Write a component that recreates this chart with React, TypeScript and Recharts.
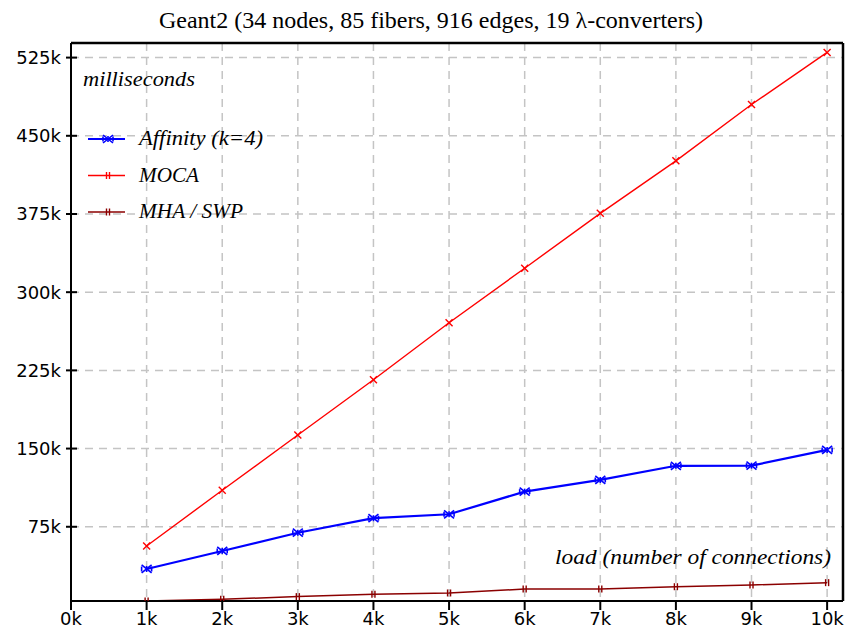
import {
  CartesianGrid,
  Customized,
  Line,
  LineChart,
  ReferenceLine,
  XAxis,
  YAxis,
} from "recharts";

// load (number of connections) vs. running time in milliseconds
const loads = [1000, 2000, 3000, 4000, 5000, 6000, 7000, 8000, 9000, 10000];
const affinity = [34500, 51800, 69300, 83200, 87000, 108700, 119900, 133500, 133600, 148700];
const moca = [56600, 110000, 163000, 216000, 270700, 323000, 375600, 426000, 480000, 530000];
const mhaSwp = [3800, 5500, 8000, 10300, 11500, 15200, 15200, 17500, 19200, 21400];

const xTicks = [0, 1000, 2000, 3000, 4000, 5000, 6000, 7000, 8000, 9000, 10000];
const yTicks = [75000, 150000, 225000, 300000, 375000, 450000, 525000];
const xDomain = [0, 10210];
const yDomain = [3800, 539000];

const title = "Geant2 (34 nodes, 85 fibers, 916 edges, 19 \u03bb-converters)";

const BLUE = "#0000ff";
const RED = "#ff0000";
const MAROON = "#8b0000";

const data = loads.map((load, i) => ({
  load,
  affinity: affinity[i],
  moca: moca[i],
  mhaSwp: mhaSwp[i],
}));

const kLabel = (v: number) => `${Math.round(v / 1000)}k`;
const tickFont = { fontFamily: "DejaVu Sans", fontSize: 18, fill: "#000" };

// "x" with a vertical stroke through it
function StarCross({ cx, cy, color }: { cx: number; cy: number; color: string }) {
  return (
    <g stroke={color} strokeWidth={1.6} fill="none">
      <line x1={cx - 5} y1={cy - 4} x2={cx + 5} y2={cy + 4} />
      <line x1={cx - 5} y1={cy + 4} x2={cx + 5} y2={cy - 4} />
      <line x1={cx - 5} y1={cy - 2.5} x2={cx - 5} y2={cy + 2.5} />
      <line x1={cx + 5} y1={cy - 2.5} x2={cx + 5} y2={cy + 2.5} />
      <line x1={cx} y1={cy - 3} x2={cx} y2={cy + 3} />
    </g>
  );
}

function SmallCross({ cx, cy, color }: { cx: number; cy: number; color: string }) {
  return (
    <g stroke={color} strokeWidth={1.4} fill="none">
      <line x1={cx - 3.5} y1={cy - 3.5} x2={cx + 3.5} y2={cy + 3.5} />
      <line x1={cx - 3.5} y1={cy + 3.5} x2={cx + 3.5} y2={cy - 3.5} />
    </g>
  );
}

function DoubleBar({ cx, cy, color }: { cx: number; cy: number; color: string }) {
  return (
    <g stroke={color} strokeWidth={1.4} fill="none">
      <line x1={cx - 1.5} y1={cy - 3.5} x2={cx - 1.5} y2={cy + 3.5} />
      <line x1={cx + 1.5} y1={cy - 3.5} x2={cx + 1.5} y2={cy + 3.5} />
    </g>
  );
}

function YTick(props: any) {
  const { x, y, payload } = props;
  return (
    <g>
      <line x1={x + 5} y1={y} x2={x + 16} y2={y} stroke="#000" strokeWidth={2} />
      <text x={x} y={y} dy="0.36em" textAnchor="end" {...tickFont}>
        {kLabel(payload.value)}
      </text>
    </g>
  );
}

const legendRows = [
  { name: "Affinity (k=4)", color: BLUE, width: 124, Mark: StarCross, sw: 2.2 },
  { name: "MOCA", color: RED, width: 60, Mark: DoubleBar, sw: 1.5 },
  { name: "MHA / SWP", color: MAROON, width: 104, Mark: DoubleBar, sw: 1.5 },
];

const italic = {
  fontFamily: "Liberation Serif",
  fontStyle: "italic" as const,
  fontSize: 20,
  fill: "#000",
  lengthAdjust: "spacingAndGlyphs" as const,
};

function Annotations() {
  return (
    <g>
      <text x={431} y={28} textAnchor="middle" fontFamily="Liberation Serif" fontSize={24} fill="#000">
        {title}
      </text>
      <text x={83} y={86} textLength={112} {...italic}>
        milliseconds
      </text>
      <text x={555} y={564} textLength={276} {...italic}>
        load (number of connections)
      </text>
      {legendRows.map((r, i) => {
        const y = 139 + i * 36.5;
        const Mark = r.Mark;
        return (
          <g key={r.name}>
            <line x1={88} y1={y} x2={125} y2={y} stroke={r.color} strokeWidth={r.sw} />
            <Mark cx={108} cy={y} color={r.color} />
            <text x={139} y={y + 6} textLength={r.width} {...italic}>
              {r.name}
            </text>
          </g>
        );
      })}
    </g>
  );
}

export default function App() {
  return (
    <div style={{ position: "absolute", left: 0, top: 0, width: 846, height: 635, background: "#fff" }}>
      <LineChart
        width={846}
        height={635}
        data={data}
        margin={{ top: 43, right: 3, bottom: 0, left: 0 }}
      >
        <CartesianGrid stroke="#c4c4c4" strokeWidth={1.5} strokeDasharray="8 6" />
        <XAxis
          type="number"
          dataKey="load"
          domain={xDomain}
          ticks={xTicks}
          tickFormatter={kLabel}
          allowDataOverflow
          height={34}
          tickSize={9}
          tickMargin={2}
          tick={tickFont}
          tickLine={{ stroke: "#000", strokeWidth: 2 }}
          axisLine={{ stroke: "#000", strokeWidth: 2 }}
        />
        <YAxis
          type="number"
          domain={yDomain}
          ticks={yTicks}
          allowDataOverflow
          width={71}
          tickSize={5}
          tickMargin={5}
          tick={<YTick />}
          tickLine={false}
          axisLine={{ stroke: "#000", strokeWidth: 2 }}
        />
        <ReferenceLine y={yDomain[1]} stroke="#000" strokeWidth={2.5} />
        <ReferenceLine x={xDomain[1]} stroke="#000" strokeWidth={2.5} />
        <Line
          type="linear"
          dataKey="mhaSwp"
          stroke={MAROON}
          strokeWidth={1.5}
          dot={(p: any) => <DoubleBar key={`h${p.index}`} cx={p.cx} cy={p.cy} color={MAROON} />}
          activeDot={false}
          isAnimationActive={false}
        />
        <Line
          type="linear"
          dataKey="affinity"
          stroke={BLUE}
          strokeWidth={2.2}
          dot={(p: any) => <StarCross key={`a${p.index}`} cx={p.cx} cy={p.cy} color={BLUE} />}
          activeDot={false}
          isAnimationActive={false}
        />
        <Line
          type="linear"
          dataKey="moca"
          stroke={RED}
          strokeWidth={1.4}
          dot={(p: any) => <SmallCross key={`m${p.index}`} cx={p.cx} cy={p.cy} color={RED} />}
          activeDot={false}
          isAnimationActive={false}
        />
        <Customized component={<Annotations />} />
      </LineChart>
    </div>
  );
}
